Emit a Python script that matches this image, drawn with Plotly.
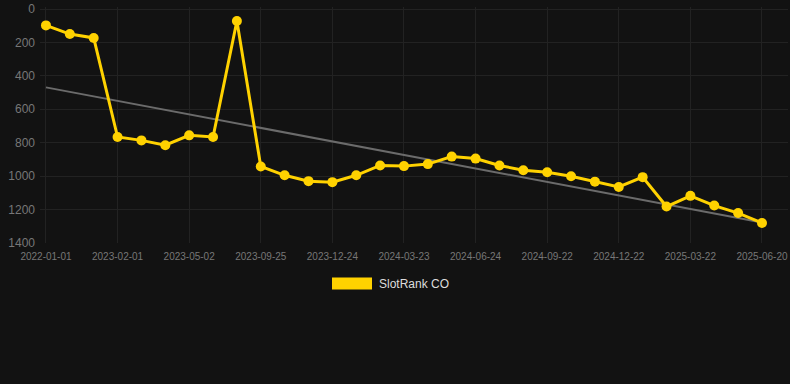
import plotly.graph_objects as go

categories = [
    "2022-01-01", "2022-06-15", "2022-11-20", "2023-02-01", "2023-03-03", "2023-04-02",
    "2023-05-02", "2023-06-30", "2023-08-15", "2023-09-25", "2023-10-25", "2023-11-24",
    "2023-12-24", "2024-01-23", "2024-02-22", "2024-03-23", "2024-04-23", "2024-05-24",
    "2024-06-24", "2024-07-24", "2024-08-23", "2024-09-22", "2024-10-22", "2024-11-21",
    "2024-12-22", "2025-01-21", "2025-02-20", "2025-03-22", "2025-04-21", "2025-05-21",
    "2025-06-20",
]
rank = [98, 150, 173, 766, 786, 815, 756, 766, 72, 942, 995, 1030, 1036, 995, 936, 940,
        928, 883, 895, 936, 965, 977, 1001, 1033, 1065, 1006, 1182, 1118, 1176, 1221, 1280]
trend_ends = [469, 1277]
tick_labels = ["2022-01-01", "2023-02-01", "2023-05-02", "2023-09-25", "2023-12-24",
               "2024-03-23", "2024-06-24", "2024-09-22", "2024-12-22", "2025-03-22",
               "2025-06-20"]
y_ticks = [0, 200, 400, 600, 800, 1000, 1200, 1400]
series_name = "SlotRank CO"

gold = "#FFD200"
bg = "#121212"

L, R, T, B = 40, 2, 4, 141
W, H = 790, 384
pw, ph = W - L - R, H - T - B


def px_x(x):
    return (x - L) / pw


def px_y(y):
    return (H - B - y) / ph


fig = go.Figure()
fig.add_trace(go.Scatter(
    x=[categories[0], categories[-1]], y=trend_ends, mode="lines",
    line=dict(color="#6b6b6b", width=2), showlegend=False, hoverinfo="skip"))
fig.add_trace(go.Scatter(
    x=categories, y=rank, mode="lines+markers", name=series_name,
    line=dict(color=gold, width=3), marker=dict(color=gold, size=10),
    showlegend=False))

fig.update_layout(
    width=W, height=H,
    paper_bgcolor=bg, plot_bgcolor=bg,
    margin=dict(l=L, r=R, t=T, b=B),
    font=dict(family="Liberation Sans, Arial, sans-serif", color="#777777"),
    xaxis=dict(type="category", categoryorder="array", categoryarray=categories,
               range=[-0.25, 31.09], tickmode="array", tickvals=tick_labels,
               ticktext=tick_labels, showgrid=True, gridcolor="#222222", gridwidth=1,
               zeroline=False, showline=False, tickfont=dict(size=10, color="#777777"),
               ticks="", ticklabelstandoff=6),
    yaxis=dict(range=[1400, -12], tickvals=y_ticks, showgrid=True, gridcolor="#222222",
               zeroline=False, showline=False, tickfont=dict(size=12, color="#777777"),
               ticks="", ticklabelstandoff=4, ticklabeloverflow="allow"),
    showlegend=False,
    shapes=[dict(type="rect", xref="paper", yref="paper", x0=px_x(332), x1=px_x(372),
                 y0=px_y(290), y1=px_y(278), fillcolor=gold, line=dict(width=0))],
    annotations=[dict(text=series_name, xref="paper", yref="paper", x=px_x(377),
                      y=px_y(285), xanchor="left", yanchor="middle",
                      showarrow=False, font=dict(size=12, color="#dddddd"))],
)

fig.write_html("out.html", config={"displayModeBar": False},
               post_script="document.body.style.margin='0';document.body.style.padding='0';"
                           "document.body.style.background='#121212';")
